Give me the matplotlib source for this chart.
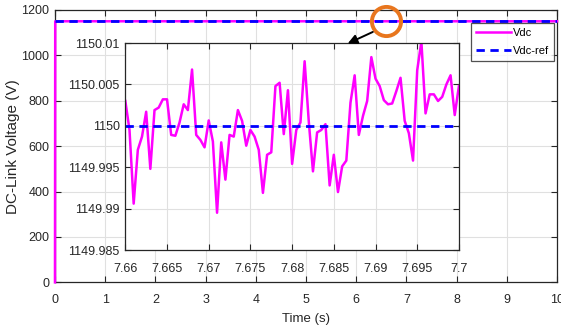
import numpy as np
import matplotlib
matplotlib.use('Agg')
import matplotlib.pyplot as plt
from matplotlib.ticker import FuncFormatter

plt.rcParams['font.family'] = ['Liberation Sans', 'DejaVu Sans']
plt.rcParams['font.size'] = 9

# full run: DC link charges up at start, then held at the reference
t_main = [0.0, 0.005, 10.0]
vdc_main = [0.0, 1150.0, 1150.0]
vref = 1150.0

# zoomed window 7.66 .. 7.70 s, sample step 0.5 ms, deviation from 1150 V in mV
t_zoom = np.round(np.arange(81) * 0.0005 + 7.66, 4)
dev_mV = [3.0, -0.5, -9.4, -2.9, -1.3, 1.7, -5.2, 1.9, 2.2, 3.2,
          3.2, -1.1, -1.2, 0.4, 2.6, 1.9, 6.8, -1.1, -1.7, -2.6,
          0.65, -1.9, -10.5, -2.0, -6.5, -1.1, -1.3, 1.9, 0.6, -2.4,
          -0.5, -1.3, -2.9, -8.1, -3.5, -3.2, 4.8, 5.2, -1.0, 4.3,
          -4.6, -0.5, 0.4, 7.8, 0.5, -5.5, -0.8, -0.5, 0.2, -7.2,
          -3.5, -8.0, -4.9, -4.2, 2.8, 6.1, -1.1, 1.2, 3.0, 8.3,
          5.7, 4.8, 3.1, 2.6, 2.7, 4.2, 5.8, 0.6, -0.9, -4.2,
          6.7, 10.2, 1.5, 3.8, 3.8, 3.0, 3.5, 5.0, 6.1, 1.3,
          4.8]
vdc_zoom = vref + np.array(dev_mV) / 1000.0

pink = '#FF00FF'
blue = '#0000FF'
axcol = '#262626'


def matlab_style(a, xpad):
    for s in a.spines.values():
        s.set_color(axcol)
        s.set_linewidth(0.9)
    a.tick_params(direction='in', length=4, width=0.8, colors=axcol,
                  top=True, right=True, labelsize=9, pad=4)
    a.tick_params(axis='x', pad=xpad)
    a.grid(True, color='#E0E0E0', linewidth=0.8)
    a.set_axisbelow(True)


fig = plt.figure(figsize=(5.61, 3.31), dpi=100)
ax = fig.add_axes([0.098, 0.147, 0.895, 0.823])
ax.plot(t_main, vdc_main, color=pink, lw=1.8, label='Vdc',
        clip_on=False, zorder=3)
ax.plot([0, 10], [vref, vref], color=blue, lw=2.0, ls=(0, (3, 2)),
        label='Vdc-ref', zorder=3.1)
ax.set_xlim(0, 10)
ax.set_ylim(0, 1200)
ax.set_xticks(range(0, 11))
ax.set_yticks(range(0, 1201, 200))
matlab_style(ax, 8.5)
ax.set_xlabel('Time (s)', fontsize=9.5, color=axcol, labelpad=5)
ax.set_ylabel('DC-Link Voltage (V)', fontsize=11, color=axcol, labelpad=1)

leg = ax.legend(loc='upper right', bbox_to_anchor=(0.9875, 0.9305),
                bbox_transform=fig.transFigure, fancybox=False,
                edgecolor=axcol, fontsize=8, handlelength=3.1,
                borderpad=0.45, labelspacing=0.75, handletextpad=0.2,
                borderaxespad=0)
leg.get_frame().set_linewidth(0.9)

# highlight marker on the reference line and pointer to the zoom
ax.plot(6.6, 1150, 'o', ms=21, mfc='none', mec='#E8761E', mew=2.8,
        clip_on=False, zorder=5)

axi = fig.add_axes([0.2234, 0.2447, 0.5946, 0.6253])
axi.plot(t_zoom, vdc_zoom, color=pink, lw=1.8)
axi.plot([7.66, 7.7], [vref, vref], color=blue, lw=2.0, ls=(0, (3, 2)))
axi.set_xlim(7.66, 7.7)
axi.set_ylim(1149.985, 1150.01)
axi.set_xticks(np.round(np.arange(7.66, 7.7001, 0.005), 3))
axi.set_yticks(np.round(np.arange(1149.985, 1150.0101, 0.005), 3))
fmt = FuncFormatter(lambda v, p: f'{v:.3f}'.rstrip('0').rstrip('.'))
axi.xaxis.set_major_formatter(fmt)
axi.yaxis.set_major_formatter(fmt)
matlab_style(axi, 9)

axi.annotate('', xy=(5.83, 1052), xycoords=ax.transData,
             xytext=(6.33, 1103), textcoords=ax.transData,
             arrowprops=dict(arrowstyle='-|>', color='k', lw=1.4,
                             mutation_scale=14, shrinkA=0, shrinkB=0),
             annotation_clip=False)

fig.savefig('out.png', dpi=100)
